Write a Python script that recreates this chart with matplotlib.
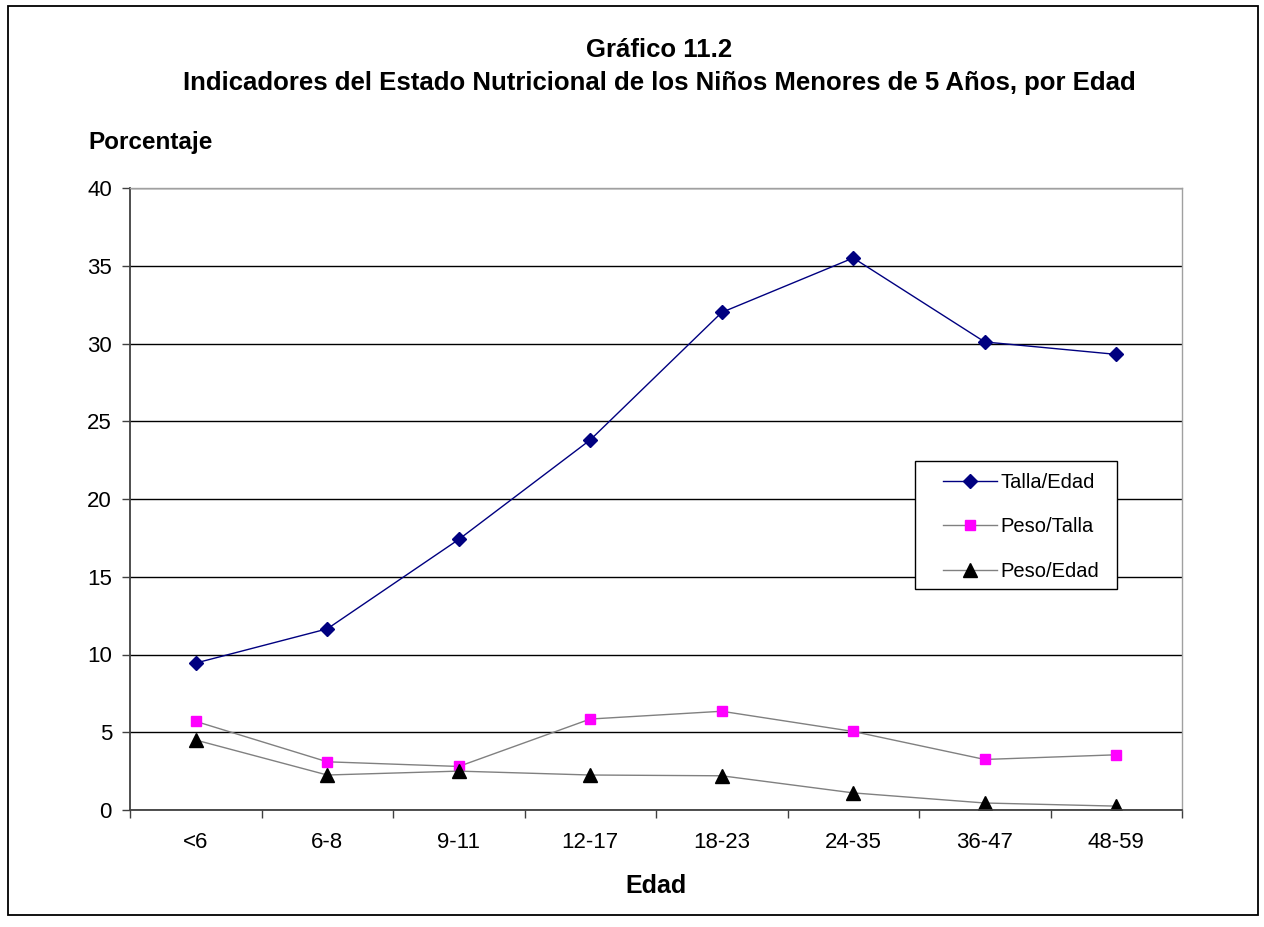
import numpy as np
import matplotlib.pyplot as plt
from matplotlib.patches import Rectangle

# Datos
edades = ['<6', '6-8', '9-11', '12-17', '18-23', '24-35', '36-47', '48-59']
talla_edad = [9.45, 11.65, 17.4, 23.8, 32.0, 35.5, 30.1, 29.3]
peso_talla = [5.7, 3.1, 2.8, 5.85, 6.35, 5.05, 3.25, 3.55]
peso_edad = [4.5, 2.25, 2.5, 2.25, 2.2, 1.1, 0.45, 0.25]

plt.rcParams['font.family'] = ['Liberation Sans', 'DejaVu Sans']

W, H = 1264, 927
fig = plt.figure(figsize=(W/100, H/100), dpi=100)
# zone du graphique en pixels : x 130-1182, y 188-810
ax = fig.add_axes([130/W, 1-810/H, (1182-130)/W, (810-188)/H])

x = np.arange(len(edades))
ax.plot(x, talla_edad, color='#000080', lw=1, marker='D', ms=7,
        mfc='#000080', mec='#000080', label='Talla/Edad')
ax.plot(x, peso_talla, color='#808080', lw=1, marker='s', ms=7.5,
        mfc='#FF00FF', mec='#FF00FF', label='Peso/Talla')
ax.plot(x, peso_edad, color='#808080', lw=1, marker='^', ms=9.5,
        mfc='black', mec='black', label='Peso/Edad')

ax.set_xlim(-0.5, len(edades) - 0.5)
ax.set_ylim(0, 40)
ax.set_yticks(np.arange(0, 41, 5))
ax.yaxis.grid(True, color='black', lw=1)
ax.set_axisbelow(True)
ax.set_xticks(x)
ax.set_xticklabels(edades, fontsize=16)
ax.set_xticks(np.arange(-0.5, len(edades)), minor=True)
ax.tick_params(axis='x', which='major', length=0, pad=16)
ax.tick_params(axis='x', which='minor', length=6, width=1, color='#404040')
ax.tick_params(axis='y', length=6, width=1, color='#404040', labelsize=16, pad=7)

for s in ['left', 'bottom']:
    ax.spines[s].set_color('#404040')
    ax.spines[s].set_linewidth(1.3)
for s in ['top', 'right']:
    ax.spines[s].set_color('#a0a0a0')
    ax.spines[s].set_linewidth(1)

ax.set_xlabel('Edad', fontsize=18, fontweight='bold', labelpad=15)

fig.text(659/W, 1-50/H, 'Gráfico 11.2', ha='center', va='center',
         fontsize=18.5, fontweight='bold')
fig.text(659/W, 1-83/H,
         'Indicadores del Estado Nutricional de los Niños Menores de 5 Años, por Edad',
         ha='center', va='center', fontsize=18.5, fontweight='bold')
fig.text(88/W, 1-142/H, 'Porcentaje', ha='left', va='center',
         fontsize=17.5, fontweight='bold')

# cadre de la légende dessiné à part (x 915-1117, y 461-589)
ax.add_patch(Rectangle(((915-130)/1052, (810-589)/622), 202/1052, 128/622,
                       transform=ax.transAxes, facecolor='white',
                       edgecolor='black', lw=1, zorder=4, clip_on=False))
leg = ax.legend(loc='center left', bbox_to_anchor=((943-130)/1052, (810-527)/622),
                fontsize=14.5, frameon=False, handlelength=2.7, labelspacing=1.25,
                borderpad=0, handletextpad=0.15, borderaxespad=0)
leg.set_zorder(5)

fig.add_artist(Rectangle((8/W, 1-915/H), 1250/W, 909/H,
                         transform=fig.transFigure, fill=False,
                         edgecolor='black', lw=1.3))

fig.savefig('out.png', dpi=100)
